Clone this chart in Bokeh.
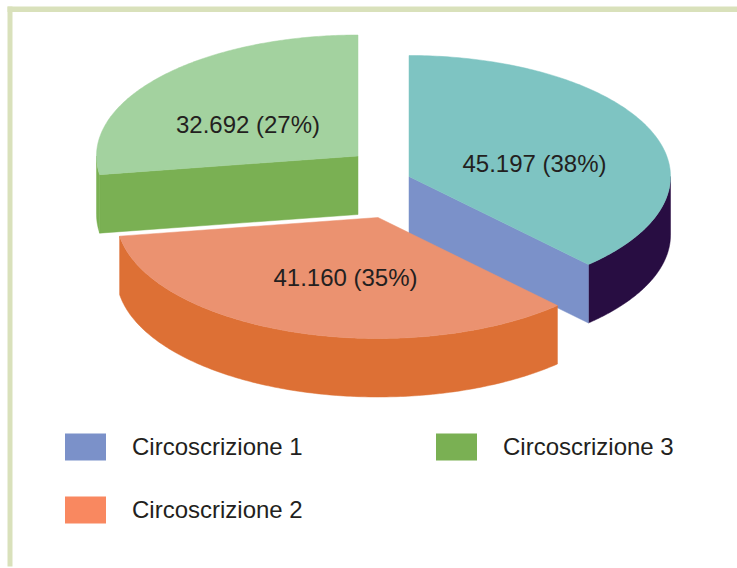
import numpy as np
from bokeh.embed import file_html
from bokeh.models import Range1d
from bokeh.plotting import figure
from bokeh.resources import INLINE
from bokeh.core.properties import value

# ---- data ----
categories = ["Circoscrizione 1", "Circoscrizione 2", "Circoscrizione 3"]
votes = [45197, 41160, 32692]
labels = ["45.197 (38%)", "41.160 (35%)", "32.692 (27%)"]

# ---- styling ----
top_colors = ["#7ec4c2", "#eb9270", "#a3d29f"]
wall_colors = ["#280d42", "#dd7035", "#7ab053"]
face_colors = ["#7b91c9", "#dd7035", "#7ab053"]
legend_colors = ["#7b91c9", "#f98860", "#7ab053"]
BAND = "#d9e1bb"
INK = "#231f20"
FONT = value("Liberation Sans")

W, H = 737, 568
RX, RY, DEPTH = 261.5, 121, 58.5
# exploded apex of each slice, in window pixels
apex = [(408.5, 176), (377.5, 217), (357.5, 155.5)]
label_pos = [(534, 162.5), (345, 276.5), (247.5, 123.5)]
legend_pos = [(64.5, 433), (64.5, 496), (435.5, 433)]
legend_text_x = [131.5, 131.5, 502.5]


def arc(c, a0, a1, dy=0.0):
    t = np.radians(np.linspace(a0, a1, 160))
    return c[0] + RX * np.sin(t), c[1] - RY * np.cos(t) + dy


p = figure(width=W, height=H, output_backend="svg", toolbar_location=None,
           x_range=Range1d(0, W), y_range=Range1d(H, 0),
           min_border=0, outline_line_color=None, background_fill_color="white",
           border_fill_color="white", tools="")
p.axis.visible = False
p.grid.visible = False

# frame bands
p.quad(left=[7, 7], right=[12, W], top=[6, 6], bottom=[566, 11.5],
       fill_color=BAND, line_color=None)

# slice angles clockwise from the top
shares = np.array(votes, dtype=float) / sum(votes)
edges = np.concatenate([[0.0], np.cumsum(shares) * 360.0])

# painter's order: back slice first
for i in (2, 0, 1):
    a0, a1 = edges[i], edges[i + 1]
    c = apex[i]
    # outer wall: the part of the rim that faces the viewer (90..270 deg)
    w0, w1 = max(a0, 90.0), min(a1, 270.0)
    if w1 > w0:
        xt, yt = arc(c, w0, w1)
        xb, yb = arc(c, w0, w1, DEPTH)
        p.patch(np.concatenate([xt, xb[::-1]]), np.concatenate([yt, yb[::-1]]),
                fill_color=wall_colors[i], line_color=wall_colors[i], line_width=0.5)
    # cut face that faces the viewer
    face_angle = a1 if i == 0 else a0
    if i != 1:
        ex, ey = arc(c, face_angle, face_angle)
        ex, ey = ex[0], ey[0]
        p.patch([c[0], ex, ex, c[0]], [c[1], ey, ey + DEPTH, c[1] + DEPTH],
                fill_color=face_colors[i], line_color=face_colors[i], line_width=0.5)
    # top surface
    xt, yt = arc(c, a0, a1)
    p.patch(np.concatenate([[c[0]], xt]), np.concatenate([[c[1]], yt]),
            fill_color=top_colors[i], line_color=top_colors[i], line_width=0.5)

# value labels
p.text(x=[q[0] for q in label_pos], y=[q[1] for q in label_pos], text=labels,
       text_font=FONT, text_font_size="24px", text_color=INK,
       text_align="center", text_baseline="middle")

# legend
p.quad(left=[q[0] for q in legend_pos], right=[q[0] + 41 for q in legend_pos],
       top=[q[1] for q in legend_pos], bottom=[q[1] + 27 for q in legend_pos],
       fill_color=legend_colors, line_color=None)
p.text(x=legend_text_x, y=[q[1] + 13 for q in legend_pos], text=categories,
       text_font=FONT, text_font_size="24px", text_color=INK,
       text_align="left", text_baseline="middle")

open("out.html", "w").write(file_html(p, INLINE))
